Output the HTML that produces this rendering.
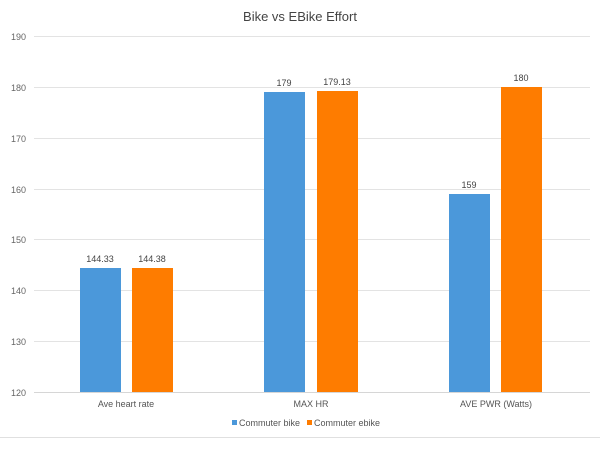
<!DOCTYPE html>
<html><head><style>
body{margin:0;background:#fff;}
svg text{font-family:"Liberation Sans",sans-serif;}
</style></head><body>
<svg width="600" height="446" xmlns="http://www.w3.org/2000/svg">
<rect x="0" y="0" width="600" height="446" fill="#fff"/>
<line x1="0" y1="437.5" x2="600" y2="437.5" stroke="#e0e0e0"/>
<text x="300" y="21" font-size="13" fill="#444" text-anchor="middle">Bike vs EBike Effort</text>
<g stroke="#e3e3e3" stroke-width="1">
<line x1="34" x2="590" y1="36.5" y2="36.5"/>
<line x1="34" x2="590" y1="87.5" y2="87.5"/>
<line x1="34" x2="590" y1="138.5" y2="138.5"/>
<line x1="34" x2="590" y1="189.5" y2="189.5"/>
<line x1="34" x2="590" y1="239.5" y2="239.5"/>
<line x1="34" x2="590" y1="290.5" y2="290.5"/>
<line x1="34" x2="590" y1="341.5" y2="341.5"/>
</g>
<g font-size="9" fill="#666" text-anchor="end">
<text x="26" y="40">190</text><text x="26" y="91">180</text><text x="26" y="142">170</text>
<text x="26" y="193">160</text><text x="26" y="243">150</text><text x="26" y="294">140</text>
<text x="26" y="345">130</text><text x="26" y="396">120</text>
</g>
<g fill="#4b98da">
<rect x="80" y="268" width="41" height="124"/>
<rect x="264" y="92" width="41" height="300"/>
<rect x="449" y="194" width="41" height="198"/>
</g>
<g fill="#fe7c00">
<rect x="132" y="268" width="41" height="124"/>
<rect x="317" y="91" width="41" height="301"/>
<rect x="501" y="87" width="41" height="305"/>
</g>
<line x1="34" x2="590" y1="392.5" y2="392.5" stroke="#d6d6d6"/>
<g font-size="9" fill="#444" text-anchor="middle">
<text x="100" y="262">144.33</text><text x="152" y="262">144.38</text>
<text x="284" y="86">179</text><text x="337" y="85">179.13</text>
<text x="469" y="188">159</text><text x="521" y="81">180</text>
</g>
<g font-size="9" fill="#555" text-anchor="middle">
<text x="126" y="407">Ave heart rate</text>
<text x="311" y="407">MAX HR</text>
<text x="496" y="407">AVE PWR (Watts)</text>
</g>
<rect x="232" y="420" width="5" height="5" fill="#4b98da"/>
<text x="239" y="426" font-size="9" fill="#555">Commuter bike</text>
<rect x="307" y="420" width="5" height="5" fill="#fe7c00"/>
<text x="314" y="426" font-size="9" fill="#555">Commuter ebike</text>
</svg>
</body></html>
